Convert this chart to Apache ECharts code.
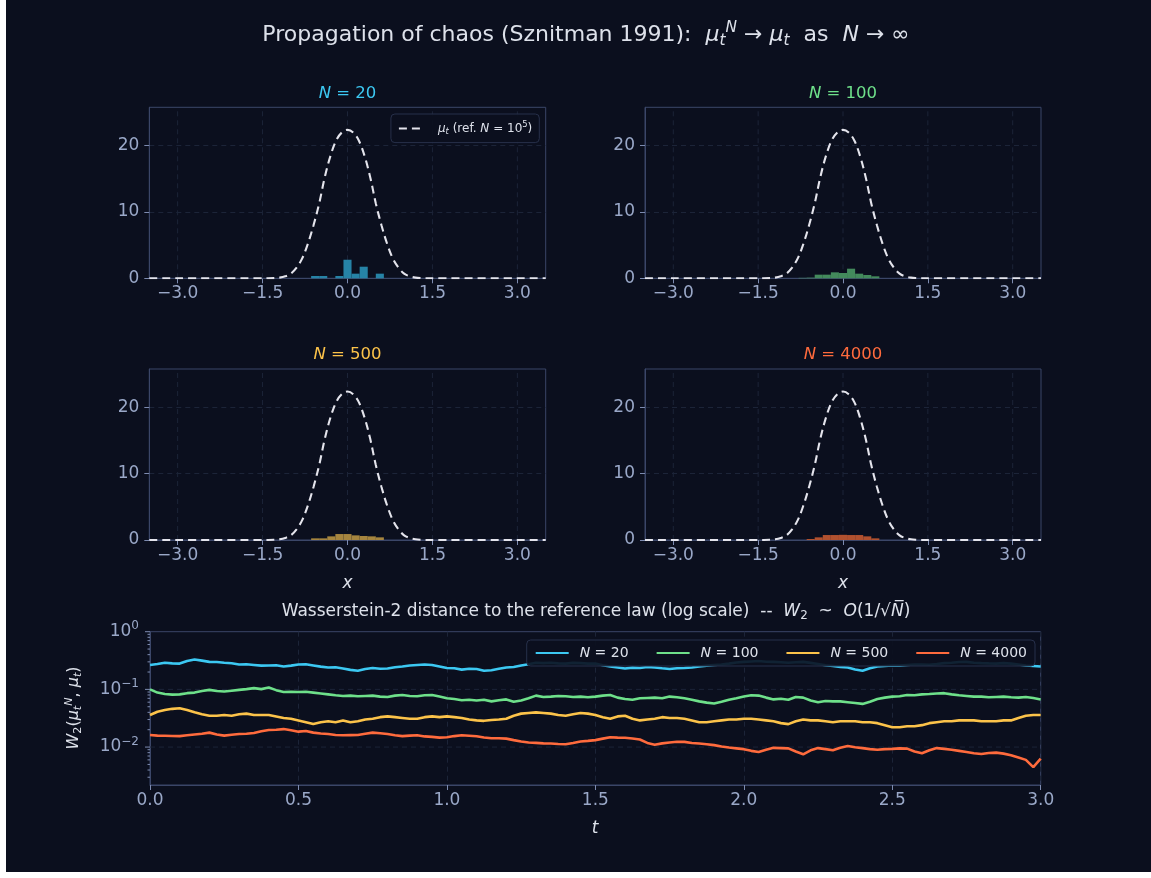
<!DOCTYPE html>
<html><head><meta charset="utf-8">
<script src="https://cdn.jsdelivr.net/npm/echarts@6/dist/echarts.min.js"></script>
<style>
html,body{margin:0;padding:0;background:#ffffff;}
#c{position:absolute;left:6px;top:0;width:1145px;height:872px;background:#0b0f1e;}
</style></head><body><div id="c"></div>
<script>
// ---------------- data ----------------
const binCenters = [-0.714, -0.571, -0.429, -0.286, -0.143, 0, 0.143, 0.286, 0.429, 0.571];
const binWidth = 1 / 7;
const hist20   = [0,    0.35, 0.35, 0,    0.35, 2.8,  0.7,  1.75, 0,    0.7];
const hist100  = [0.07, 0.1,  0.55, 0.55, 0.9,  0.8,  1.45, 0.7,  0.5,  0.3];
const hist500  = [0,    0.25, 0.25, 0.55, 0.9,  0.9,  0.7,  0.6,  0.55, 0.4];
const hist4000 = [0,    0.15, 0.4,  0.75, 0.75, 0.78, 0.75, 0.75, 0.55, 0.25];

const refX = [-3.5, -1.4, -1.3, -1.2, -1.1, -1.0, -0.9, -0.8, -0.7, -0.6, -0.5, -0.4, -0.3, -0.2, -0.1, 0,
              0.1, 0.2, 0.3, 0.4, 0.5, 0.6, 0.7, 0.8, 0.9, 1.0, 1.1, 1.2, 1.3, 1.4, 3.5];
const refY = [0, 0.01, 0.03, 0.1, 0.3, 0.7, 1.6, 3.0, 5.2, 8.0, 11.3, 15.3, 18.5, 20.8, 22.0, 22.4,
              22.0, 20.8, 18.5, 15.3, 11.3, 8.0, 5.2, 3.0, 1.6, 0.7, 0.3, 0.1, 0.03, 0.01, 0];

const histXTicks = [-3, -1.5, 0, 1.5, 3];
const histYTicks = [0, 10, 20];
const panelNs = ['20', '100', '500', '4000'];

const tStep = 0.025; // sampling of the W2 curves, t from 0 to 3
const w2_20 = [
  0.265,0.275,0.29,0.282,0.28,0.31,0.33,0.315,0.30,0.298,
  0.29,0.283,0.27,0.272,0.265,0.258,0.26,0.262,0.25,0.258,
  0.27,0.272,0.26,0.248,0.24,0.242,0.23,0.218,0.21,0.225,
  0.235,0.228,0.23,0.242,0.25,0.26,0.265,0.27,0.265,0.25,
  0.235,0.232,0.22,0.228,0.225,0.21,0.215,0.228,0.24,0.245,
  0.26,0.272,0.29,0.285,0.29,0.282,0.28,0.288,0.285,0.28,
  0.28,0.262,0.25,0.24,0.23,0.238,0.235,0.245,0.24,0.232,
  0.225,0.232,0.235,0.24,0.25,0.258,0.265,0.27,0.28,0.292,
  0.30,0.305,0.31,0.302,0.30,0.296,0.29,0.296,0.30,0.288,
  0.275,0.262,0.255,0.245,0.24,0.222,0.21,0.232,0.25,0.255,
  0.26,0.258,0.265,0.27,0.27,0.268,0.275,0.285,0.29,0.298,
  0.30,0.29,0.285,0.282,0.28,0.285,0.28,0.27,0.26,0.255,
  0.25];
const w2_100 = [
  0.10,0.088,0.083,0.081,0.082,0.086,0.088,0.094,0.098,0.094,
  0.092,0.095,0.098,0.101,0.105,0.101,0.108,0.097,0.09,0.091,
  0.09,0.091,0.088,0.085,0.082,0.079,0.077,0.078,0.076,0.077,
  0.078,0.075,0.074,0.078,0.08,0.077,0.076,0.079,0.08,0.075,
  0.07,0.068,0.065,0.066,0.064,0.066,0.062,0.065,0.067,0.061,
  0.064,0.07,0.078,0.074,0.075,0.077,0.076,0.074,0.075,0.073,
  0.075,0.078,0.08,0.072,0.068,0.066,0.07,0.071,0.072,0.07,
  0.075,0.073,0.07,0.066,0.062,0.059,0.057,0.061,0.066,0.07,
  0.075,0.079,0.078,0.072,0.067,0.069,0.066,0.074,0.072,0.064,
  0.06,0.063,0.062,0.062,0.06,0.058,0.056,0.061,0.068,0.072,
  0.075,0.076,0.08,0.079,0.082,0.083,0.085,0.086,0.082,0.079,
  0.077,0.075,0.075,0.073,0.074,0.075,0.073,0.072,0.074,0.071,
  0.067];
const w2_500 = [
  0.036,0.041,0.044,0.046,0.047,0.044,0.04,0.037,0.035,0.035,
  0.036,0.035,0.037,0.038,0.036,0.036,0.036,0.034,0.032,0.031,
  0.029,0.027,0.025,0.027,0.028,0.027,0.029,0.027,0.028,0.03,
  0.031,0.033,0.034,0.033,0.032,0.031,0.031,0.033,0.034,0.033,
  0.034,0.033,0.032,0.03,0.029,0.0285,0.0295,0.03,0.031,0.035,
  0.038,0.039,0.04,0.039,0.038,0.036,0.035,0.037,0.039,0.038,
  0.036,0.033,0.031,0.034,0.035,0.031,0.029,0.03,0.031,0.033,
  0.032,0.032,0.031,0.029,0.027,0.027,0.028,0.029,0.03,0.03,
  0.031,0.031,0.03,0.029,0.028,0.026,0.025,0.028,0.03,0.029,
  0.029,0.028,0.027,0.028,0.028,0.028,0.027,0.027,0.026,0.024,
  0.022,0.022,0.023,0.023,0.024,0.026,0.027,0.028,0.028,0.029,
  0.029,0.029,0.028,0.028,0.028,0.029,0.029,0.032,0.035,0.036,
  0.036];
const w2_4000 = [
  0.0162,0.0158,0.0157,0.0156,0.0155,0.016,0.0165,0.017,0.0178,0.0165,
  0.0158,0.0163,0.0168,0.017,0.0175,0.0188,0.0198,0.02,0.0205,0.0195,
  0.0185,0.019,0.0178,0.0172,0.0168,0.0162,0.016,0.0161,0.0162,0.017,
  0.0178,0.0174,0.0168,0.016,0.0155,0.0158,0.016,0.0153,0.015,0.0146,
  0.0148,0.0155,0.016,0.0157,0.0154,0.0147,0.0142,0.0142,0.014,0.0132,
  0.0125,0.012,0.0118,0.0116,0.0115,0.0113,0.0112,0.0118,0.0125,0.0128,
  0.0132,0.014,0.0148,0.0146,0.0145,0.0141,0.0135,0.0118,0.011,0.0116,
  0.012,0.0124,0.0123,0.0118,0.0115,0.0112,0.0108,0.0102,0.0098,0.0095,
  0.0092,0.0086,0.0082,0.009,0.0097,0.0096,0.0095,0.0084,0.0075,0.0088,
  0.0096,0.0092,0.0088,0.0097,0.0104,0.0099,0.0096,0.0092,0.009,0.0092,
  0.0093,0.0095,0.0094,0.0084,0.0078,0.0088,0.0096,0.0093,0.009,0.0086,
  0.0082,0.0078,0.0076,0.0079,0.008,0.0077,0.0072,0.0066,0.006,0.0045,
  0.0063];
const w2Names = ['N=20', 'N=100', 'N=500', 'N=4000'];
const logMajor = [1, 0.1, 0.01];
const logMinor = [0.003,0.004,0.005,0.006,0.007,0.008,0.009,0.02,0.03,0.04,0.05,0.06,0.07,0.08,0.09,0.2,0.3,0.4,0.5,0.6,0.7,0.8,0.9];

// ---------------- style ----------------
const FONT = 'DejaVu Sans';
const AXIS = '#3b4668';
const TICK = '#7d8bb0';
const LABEL = '#9aa8c8';
const GRIDC = '#1c2438';
const TEXT = '#dde1ea';
const lineColors = ['#3cc8f2', '#6ee08a', '#fcc34a', '#ff6b3d'];
const barColors = ['#2683a6', '#438a5c', '#a6853f', '#b1512f'];
const YMAX = 25.8;
const TICKFS = 17;
const grids = [
  {left: 143.3, top: 107.3, width: 396.4, height: 171},
  {left: 639,   top: 107.3, width: 396,   height: 171},
  {left: 143.3, top: 369,   width: 396.4, height: 171},
  {left: 639,   top: 369,   width: 396,   height: 171},
  {left: 144,   top: 631.7, width: 890.7, height: 153.3}
];
const hists = [hist20, hist100, hist500, hist4000];
const w2 = [w2_20, w2_100, w2_500, w2_4000];
const fmtMinus = v => String(v).replace('-', '\u2212');

const chart = echarts.init(document.getElementById('c'), null, {renderer: 'canvas'});

const xAxes = [], yAxes = [], series = [];
for (let i = 0; i < 4; i++) {
  xAxes.push({
    type: 'value', gridIndex: i, min: -3.5, max: 3.5,
    axisLine: {show: true, onZero: false, lineStyle: {color: AXIS}},
    axisTick: {show: true, length: 5, lineStyle: {color: TICK}, customValues: histXTicks},
    axisLabel: {color: LABEL, fontSize: TICKFS, fontFamily: FONT, margin: 7, customValues: histXTicks,
      formatter: v => fmtMinus(Number(v).toFixed(1))},
    splitLine: {show: false}
  });
  yAxes.push({
    type: 'value', gridIndex: i, min: 0, max: YMAX, interval: 10,
    axisLine: {show: true, onZero: false, lineStyle: {color: AXIS}},
    axisTick: {show: true, length: 5, lineStyle: {color: TICK}, customValues: histYTicks},
    axisLabel: {color: LABEL, fontSize: TICKFS, fontFamily: FONT, margin: 10, customValues: histYTicks},
    splitLine: {show: true, lineStyle: {color: GRIDC, type: [5, 4]}}
  });
  // vertical dashed grid lines
  series.push({
    type: 'custom', xAxisIndex: i, yAxisIndex: i, silent: true, z: 1,
    data: histXTicks.map(v => [v, 0]),
    renderItem: (p, api) => {
      const a = api.coord([api.value(0), 0]);
      const b = api.coord([api.value(0), YMAX]);
      return {type: 'line', shape: {x1: a[0], y1: a[1], x2: b[0], y2: b[1]},
        style: {stroke: GRIDC, lineWidth: 1, lineDash: [5, 4]}};
    }
  });
  // histogram bars
  const col = barColors[i];
  series.push({
    type: 'custom', xAxisIndex: i, yAxisIndex: i, z: 2, name: 'hist' + i,
    data: binCenters.map((c, j) => [c, hists[i][j]]).filter(d => d[1] > 0),
    renderItem: (p, api) => {
      const c = api.value(0), h = api.value(1);
      const a = api.coord([c - binWidth / 2, h]);
      const b = api.coord([c + binWidth / 2, 0]);
      return {type: 'rect', shape: {x: a[0], y: a[1], width: b[0] - a[0], height: b[1] - a[1]},
        style: {fill: col}};
    }
  });
  series.push({
    type: 'line', name: 'ref', xAxisIndex: i, yAxisIndex: i, z: 3,
    data: refX.map((x, j) => [x, refY[j]]),
    symbol: 'none', smooth: 0.35, silent: true,
    lineStyle: {color: '#e4e4ec', width: 2.1, type: [8, 5]},
    itemStyle: {color: '#e4e4ec'}
  });
}
// bottom W2 panel
xAxes.push({
  type: 'value', gridIndex: 4, min: 0, max: 3, interval: 0.5,
  axisLine: {show: true, onZero: false, lineStyle: {color: AXIS}},
  axisTick: {show: true, length: 5, lineStyle: {color: TICK}},
  axisLabel: {color: LABEL, fontSize: TICKFS, fontFamily: FONT, margin: 7, formatter: v => Number(v).toFixed(1)},
  splitLine: {show: true, lineStyle: {color: GRIDC, type: [5, 4]}}
});
yAxes.push({
  type: 'log', logBase: 10, gridIndex: 4, min: 0.0022, max: 1,
  axisLine: {show: true, onZero: false, lineStyle: {color: AXIS}},
  axisTick: {show: false}, axisLabel: {show: false}, splitLine: {show: false}
});
series.push({
  type: 'custom', xAxisIndex: 4, yAxisIndex: 4, silent: true, z: 1,
  data: logMajor.map(v => [0, v, 1]).concat(logMinor.map(v => [0, v, 0])),
  renderItem: (p, api) => {
    const v = api.value(1), major = api.value(2);
    const pt = api.coord([0, v]);
    const x0 = pt[0], y = pt[1];
    const ch = [{type: 'line', shape: {x1: x0 - (major ? 5 : 2.5), y1: y, x2: x0, y2: y},
      style: {stroke: TICK, lineWidth: 1}}];
    if (major) {
      const e = Math.round(Math.log10(v));
      ch.push({type: 'text', x: x0 - 11, y: y,
        style: {text: '{b|10}{s|' + fmtMinus(e) + '}', align: 'right', verticalAlign: 'middle',
          rich: {b: {fontSize: TICKFS, fontFamily: FONT, fill: LABEL, color: LABEL},
                 s: {fontSize: 12, fontFamily: FONT, fill: LABEL, color: LABEL, padding: [0, 0, 11, 0]}}}});
      if (v < 1) {
        const xe = api.coord([3, v])[0];
        ch.push({type: 'line', shape: {x1: x0, y1: y, x2: xe, y2: y},
          style: {stroke: GRIDC, lineWidth: 1, lineDash: [5, 4]}});
      }
    }
    return {type: 'group', children: ch};
  }
});
for (let k = 0; k < 4; k++) {
  series.push({
    type: 'line', name: w2Names[k], xAxisIndex: 4, yAxisIndex: 4, z: 3,
    data: w2[k].map((v, j) => [j * tStep, v]),
    symbol: 'none', lineStyle: {color: lineColors[k], width: 2.6}, itemStyle: {color: lineColors[k]}
  });
}

const richBase = (size, color, lead) => ({
  r: {fontSize: size, fontFamily: FONT, color: color, fill: color},
  i: {fontSize: size, fontFamily: FONT, fontStyle: 'italic', color: color, fill: color},
  li: {fontSize: size, fontFamily: FONT, fontStyle: 'italic', color: color, fill: color, padding: [0, 0, 0, lead || 0]},
  sb: {fontSize: size * 0.7, fontFamily: FONT, fontStyle: 'italic', color: color, fill: color, padding: [size * 0.5, 0, 0, 0]},
  sp: {fontSize: size * 0.7, fontFamily: FONT, fontStyle: 'italic', color: color, fill: color, padding: [0, 0, size * 0.6, 0]},
  su: {fontSize: size * 0.7, fontFamily: FONT, color: color, fill: color, padding: [size * 0.5, 0, 0, 0]},
  pu: {fontSize: size * 0.7, fontFamily: FONT, color: color, fill: color, padding: [0, 0, size * 0.6, 0]}
});
const gtext = (x, y, text, size, color, rot) => ({
  type: 'text', x: x, y: y, rotation: rot || 0, silent: true,
  style: {text: text, align: 'center', verticalAlign: 'middle', textAlign: 'center', textVerticalAlign: 'middle',
    rich: richBase(size, color), fill: color}
});
const graphics = [
  gtext(580, 35, '{r|Propagation of chaos (Sznitman 1991):  }{i|μ}{sb|t}{sp|N}{r| → }{i|μ}{sb|t}{r|  as  }{i|N}{r| → ∞}', 22, TEXT),
  gtext(590, 612, '{r|Wasserstein-2 distance to the reference law (log scale)  --  }{i|W}{su|2}{r|  ~  }{i|O}{r|(1/√}{i|N\u0305}{r|)}', 17, TEXT),
  gtext(341.5, 584, '{i|x}', 17, TEXT),
  gtext(837, 584, '{i|x}', 17, TEXT),
  gtext(589, 829, '{i|t}', 17, TEXT),
  gtext(68, 708, '{i|W}{su|2}{r|(}{i|μ}{sb|t}{sp|N}{r|, }{i|μ}{sb|t}{r|)}', 16, TEXT, Math.PI / 2)
];
const titlePos = [[341.5, 94], [837, 94], [341.5, 355], [837, 355]];
for (let i = 0; i < 4; i++) {
  graphics.push(gtext(titlePos[i][0], titlePos[i][1], '{i|N}{r| = ' + panelNs[i] + '}', 16.5, lineColors[i]));
}

chart.setOption({
  backgroundColor: '#0b0f1e',
  animation: false,
  grid: grids.map(g => Object.assign({show: true, borderColor: AXIS, borderWidth: 1, backgroundColor: 'transparent'}, g)),
  xAxis: xAxes,
  yAxis: yAxes,
  legend: [
    {
      data: ['ref'], right: 611.7, top: 114, orient: 'horizontal',
      itemWidth: 24, itemHeight: 10, padding: [7, 7],
      itemStyle: {opacity: 0},
      backgroundColor: 'rgba(11,15,30,0.9)', borderColor: '#27304a', borderWidth: 1, borderRadius: 4,
      formatter: () => '{li|μ}{sb|t}{r| (ref. }{i|N}{r| = 10}{pu|5}{r|)}',
      textStyle: {color: TEXT, fontSize: 12, fontFamily: FONT, rich: richBase(12, TEXT, 10)}
    },
    {
      data: w2Names, right: 116, top: 640, orient: 'horizontal',
      itemWidth: 33, itemHeight: 12, itemGap: 27, padding: [6, 8],
      itemStyle: {opacity: 0},
      backgroundColor: 'rgba(11,15,30,0.9)', borderColor: '#27304a', borderWidth: 1, borderRadius: 4,
      formatter: n => '{li|N}{r| = ' + n.split('=')[1] + '}',
      textStyle: {color: TEXT, fontSize: 14, fontFamily: FONT, rich: richBase(14, TEXT, 6)}
    }
  ],
  graphic: graphics,
  series: series
});
</script></body></html>
